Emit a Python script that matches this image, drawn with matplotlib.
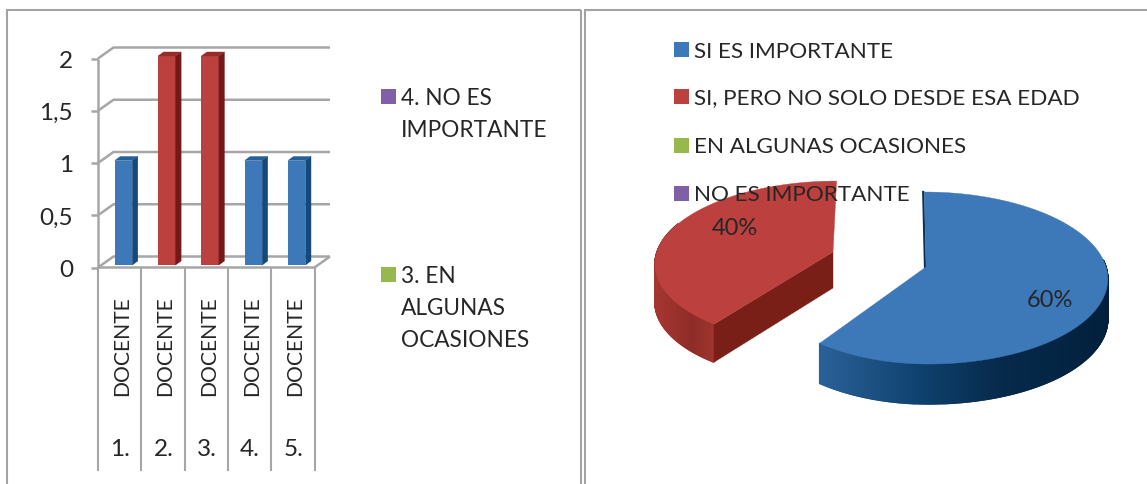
import numpy as np
import matplotlib
matplotlib.use("Agg")
import matplotlib.pyplot as plt
from matplotlib.patches import Polygon, Rectangle
from matplotlib.colors import to_rgb

# ---- data ----
teachers = ["DOCENTE"] * 5
teacher_numbers = ["1.", "2.", "3.", "4.", "5."]
bar_values = [1, 2, 2, 1, 1]
bar_groups = ["a", "b", "b", "a", "a"]
y_ticks = [0, 0.5, 1, 1.5, 2]
y_tick_labels = ["0", "0,5", "1", "1,5", "2"]
bar_legend_labels = ["4. NO ES\nIMPORTANTE", "3. EN\nALGUNAS\nOCASIONES"]
pie_labels = ["SI ES IMPORTANTE", "SI, PERO NO SOLO DESDE ESA EDAD",
              "EN ALGUNAS OCASIONES", "NO ES IMPORTANTE"]
pie_values = [60, 40, 0, 0]

# ---- style ----
W, H = 1147, 485
BLUE, RED, GREEN, PURPLE = "#3d78b9", "#bc413e", "#97b84c", "#7f5fa5"
BLUE_SIDE, BLUE_TOP = "#15497a", "#25609b"
RED_SIDE, RED_TOP = "#74191a", "#962d2a"
GRID = "#a6a6a6"
FRAME = "#a3a3a3"
INK = "#262626"
FONT = "Lato"
plt.rcParams["font.family"] = [FONT, "DejaVu Sans"]

fig = plt.figure(figsize=(W / 100, H / 100), dpi=100, facecolor="white")

def px_axes(x0, y_top, x1, y_bottom):
    return [x0 / W, 1 - y_bottom / H, (x1 - x0) / W, (y_bottom - y_top) / H]

ov = fig.add_axes([0, 0, 1, 1], zorder=1)
ov.set_xlim(0, W)
ov.set_ylim(H, 0)
ov.axis("off")
ov.patch.set_alpha(0)

# panel frames
for xs, ys in [((6.5, 6.5, 581), (485, 10.5, 10.5)), ((581, 581), (10.5, 485)),
               ((584.5, 584.5, W), (485, 10.5, 10.5))]:
    ov.plot(xs, ys, color=FRAME, lw=1.5, solid_capstyle="butt", solid_joinstyle="miter")

# ---- bar chart ----
ax = fig.add_axes(px_axes(98, 59.5, 314.5, 268.5), zorder=2)
ax.set_xlim(0, len(bar_values))
ax.set_ylim(0, 2)
ax.axis("off")
ax.patch.set_alpha(0)
ux = (314.5 - 98) / len(bar_values)
uy = (268.5 - 59.5) / 2
dX, dY = 15.5 / ux, 11 / uy          # wall depth
gkw = dict(color=GRID, lw=1.8, clip_on=False, solid_capstyle="butt")
n = len(bar_values)
for t in y_ticks:
    ax.plot([0, dX, n + dX], [t, t + dY, t + dY], zorder=1, **gkw)
    ax.plot([-7 / ux, 0], [t, t], zorder=1, **gkw)
ax.plot([0, 0], [0, 2], zorder=1, **gkw)
ax.plot([0, n, n + dX], [0, 0, dY], zorder=1, **gkw)
for i in range(n + 1):
    ax.plot([i, i], [0, -202 / uy], zorder=1, color=GRID, lw=1.5, clip_on=False)

bar_w = 17.5 / ux
side_x, side_y = 5.5 / ux, 4 / uy
base = 2.5 / uy
for i, (v, g) in enumerate(zip(bar_values, bar_groups)):
    face, side, top = (BLUE, BLUE_SIDE, BLUE_TOP) if g == "a" else (RED, RED_SIDE, RED_TOP)
    left = i + 0.5 + 0.09 - bar_w / 2
    ax.bar(left, v, width=bar_w, bottom=base, align="edge", color=face, zorder=3, clip_on=False)
    r = left + bar_w
    ax.add_patch(Polygon([(r, base), (r + side_x, base + side_y), (r + side_x, base + v + side_y), (r, base + v)],
                         closed=True, fc=side, ec=side, lw=0.3, zorder=3, clip_on=False))
    ax.add_patch(Polygon([(left, base + v), (r, base + v), (r + side_x, base + v + side_y), (left + side_x, base + v + side_y)],
                         closed=True, fc=top, ec=top, lw=0.3, zorder=3, clip_on=False))
    ax.text(i + 0.5 + 0.06, -(396 - 268.5) / uy, teachers[i], rotation=90, ha="center", va="bottom",
            fontsize=15.2, color=INK, clip_on=False)
    ax.text(i + 0.5 + 0.01, -(450 - 268.5) / uy, teacher_numbers[i], ha="center", va="center",
            fontsize=17.5, color=INK, clip_on=False)
for t, lab in zip(y_ticks, y_tick_labels):
    ax.text(-25 / ux, t - 2 / uy, lab, ha="right", va="center", fontsize=17.5, color=INK, clip_on=False)

# bar legend
def legend_entry(x_sq, y, size, color, text, x_text, fs, step=32):
    ov.add_patch(Rectangle((x_sq - size / 2, y - size / 2), size, size, fc=color, ec="none", zorder=5))
    for j, line in enumerate(text.split("\n")):
        ov.text(x_text, y + 1.5 + j * step, line, ha="left", va="center", fontsize=fs, color=INK, zorder=6)

legend_entry(388, 97, 15, PURPLE, bar_legend_labels[0], 401, 16.3)
legend_entry(388, 275, 15, GREEN, bar_legend_labels[1], 401, 16.3)

# ---- 3D pie ----
K = 0.128

def rim(theta_deg, cx, cy, rx_l, rx_r, ry, lean=0.0):
    th = np.radians(theta_deg)
    u, v = np.sin(th), np.cos(th)
    p = 1 / (1 + K * v)
    rx = np.where(u < 0, rx_l, rx_r)
    return cx + (rx * u + lean * v) * p, cy - ry * v * p

def mix(stops, t):
    xs = [s[0] for s in stops]
    cols = np.array([to_rgb(s[1]) for s in stops])
    return tuple(np.interp(t, xs, cols[:, k]) for k in range(3))

shares = np.array(pie_values, dtype=float) / sum(pie_values)
edges = 360 * np.concatenate([[0], np.cumsum(shares)])

# blue slice
b = dict(cx=926, cy=268, rx_l=165, rx_r=180, ry=84.6, lean=-2)
D_B = 40
ths = np.linspace(edges[0], edges[1], 160)
xb, yb = rim(ths, **b)
blue_stops = [(0.0, "#2a6198"), (0.33, "#104370"), (0.62, "#062a4c"), (1.0, "#02203c")]
wall = np.arange(85, edges[1] + 0.25, 0.25)
for a0, a1 in zip(wall[:-1], wall[1:]):
    x, y = rim(np.array([a0, a1]), **b)
    c = mix(blue_stops, np.clip((x.mean() - 818) / (1108 - 818), 0, 1))
    ov.add_patch(Polygon([(x[0], y[0]), (x[1], y[1]), (x[1], y[1] + D_B), (x[0], y[0] + D_B)],
                         closed=True, fc=c, ec=c, lw=1.0, zorder=2))
ov.plot([xb[0] - 1, b["cx"] - 1], [yb[0], b["cy"]], color="#0a2f52", lw=1.6, zorder=2.5)
ov.add_patch(Polygon(np.r_[[[b["cx"], b["cy"]]], np.c_[xb, yb]], closed=True, fc=BLUE, ec=BLUE, lw=0.3, zorder=3))

# red slice
r = dict(cx=833, cy=253, rx_l=176, rx_r=176, ry=80, lean=4)
D_R = 38
ths = np.linspace(edges[1], edges[2], 120)
xr, yr = rim(ths, **r)
red_stops = [(0.0, "#a43631"), (0.6, "#8f2c27"), (1.0, "#a03630")]
wall = np.arange(edges[1], 292, 0.25)
for a0, a1 in zip(wall[:-1], wall[1:]):
    x, y = rim(np.array([a0, a1]), **r)
    c = mix(red_stops, np.clip((x.mean() - 656) / (715 - 656), 0, 1))
    ov.add_patch(Polygon([(x[0], y[0]), (x[1], y[1]), (x[1], y[1] + D_R), (x[0], y[0] + D_R)],
                         closed=True, fc=c, ec=c, lw=1.0, zorder=2))
ov.add_patch(Polygon([(xr[0], yr[0]), (r["cx"], r["cy"]), (r["cx"], r["cy"] + 36), (xr[0], yr[0] + D_R)],
                     closed=True, fc="#7a1f17", ec="#7a1f17", lw=0.3, zorder=2.5))
ov.add_patch(Polygon(np.r_[[[r["cx"], r["cy"]]], np.c_[xr, yr]], closed=True, fc=RED, ec=RED, lw=0.3, zorder=3))

ov.text(1050, 301, f"{pie_values[0]}%", ha="center", va="center", fontsize=17, color=INK, zorder=6)
ov.text(735, 229, f"{pie_values[1]}%", ha="center", va="center", fontsize=17, color=INK, zorder=6)

# pie legend
for lab, col, y in zip(pie_labels, [BLUE, RED, GREEN, PURPLE], [50, 97, 146, 194]):
    legend_entry(681, y, 15, col, lab, 694, 16.2)

fig.savefig("out.png", dpi=100, facecolor="white")
